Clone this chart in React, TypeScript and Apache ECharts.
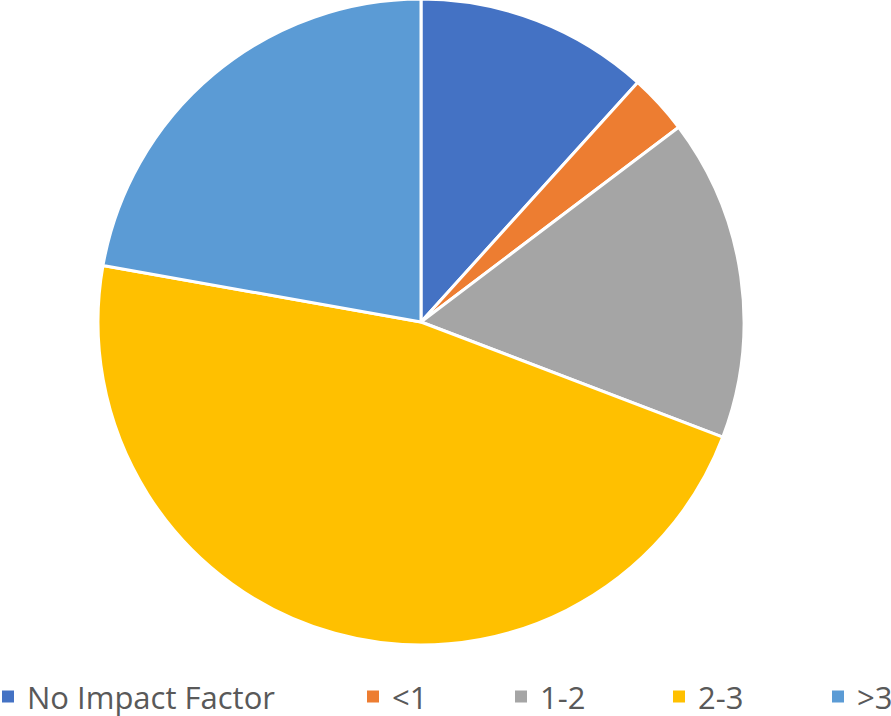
import React, { useEffect, useRef } from "react";
import * as echarts from "echarts";

const categories = ["No Impact Factor", "<1", "1-2", "2-3", ">3"];
const values = [11.7, 3.0, 16.1, 47.0, 22.2];
const colors = ["#4472C4", "#ED7D31", "#A5A5A5", "#FFC000", "#5B9BD5"];
const legendLefts = [0, 365, 513, 671, 830];

export default function App() {
  const ref = useRef<HTMLDivElement>(null);
  useEffect(() => {
    const chart = echarts.init(ref.current!, null, { renderer: "svg" });
    chart.setOption({
      animation: false,
      color: colors,
      legend: categories.map((c, i) => ({
        data: [c],
        left: legendLefts[i],
        top: 681,
        padding: 0,
        icon: "rect",
        itemWidth: 14,
        itemHeight: 14,
        textStyle: {
          color: "#595959",
          fontSize: 31,
          lineHeight: 30,
          fontFamily: "Open Sans",
          padding: [0, 0, 0, 7],
        },
      })),
      series: [
        {
          type: "pie",
          center: [421, 322],
          radius: 323,
          startAngle: 90,
          clockwise: true,
          label: { show: false },
          labelLine: { show: false },
          itemStyle: { borderColor: "#ffffff", borderWidth: 3 },
          emphasis: { disabled: true },
          data: categories.map((c, i) => ({ name: c, value: values[i] })),
        },
      ],
    });
    return () => chart.dispose();
  }, []);
  return <div ref={ref} style={{ width: 891, height: 716, position: "absolute", left: 0, top: 0 }} />;
}
